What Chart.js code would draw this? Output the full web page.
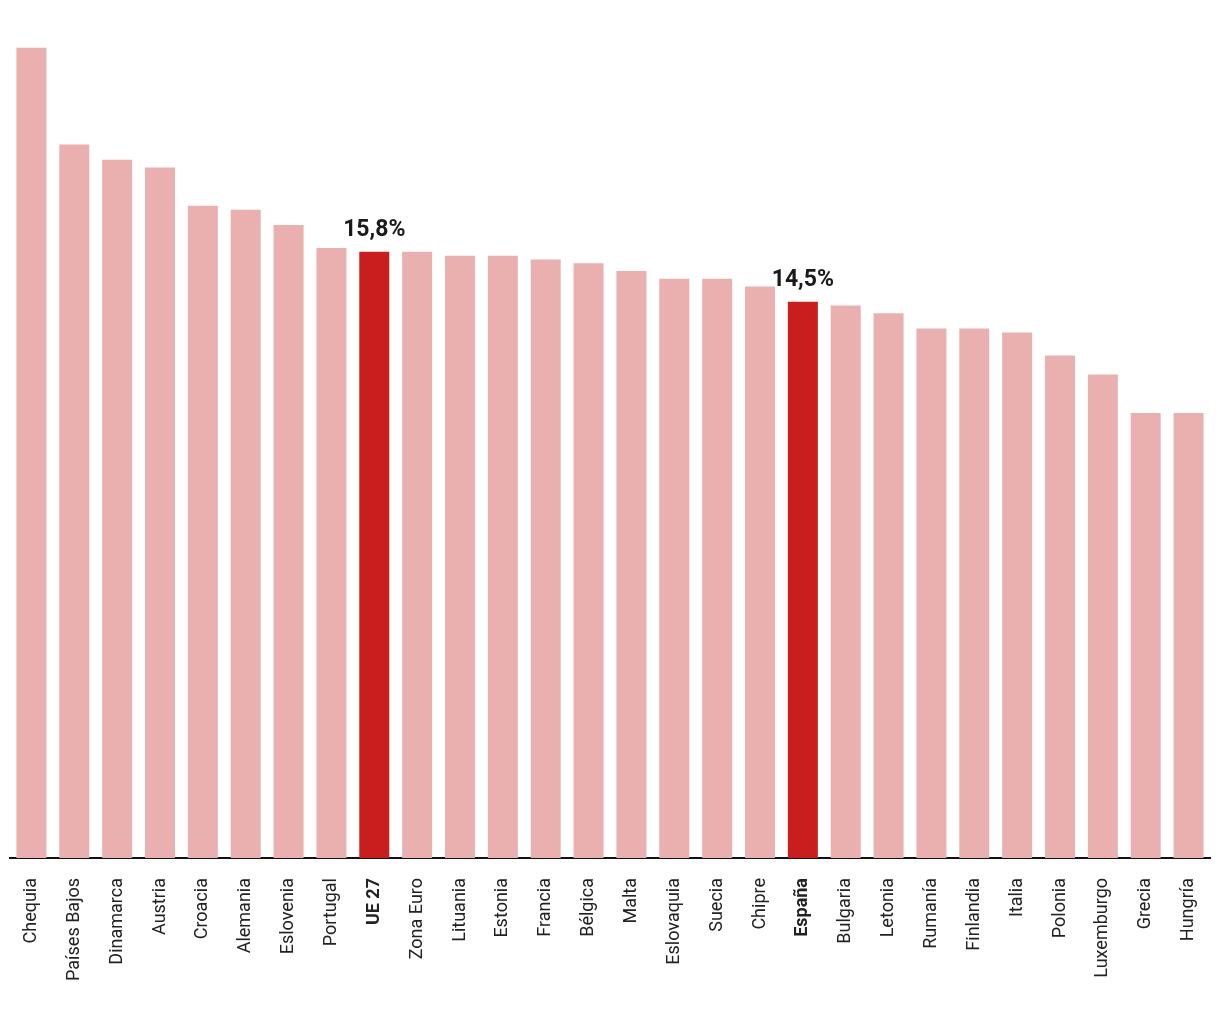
<!DOCTYPE html>
<html>
<head>
<meta charset="utf-8">
<script src="https://cdn.jsdelivr.net/npm/chart.js@4.4.1/dist/chart.umd.min.js"></script>
<style>
  html, body { margin: 0; padding: 0; background: #fff; }
  #wrap { width: 1220px; height: 1020px; position: relative; }
</style>
</head>
<body>
<div id="wrap"><canvas id="chart"></canvas></div>
<script>
// Countries, sorted as in the original graphic
const countries = [
  'Chequia', 'Países Bajos', 'Dinamarca', 'Austria', 'Croacia', 'Alemania',
  'Eslovenia', 'Portugal', 'UE 27', 'Zona Euro', 'Lituania', 'Estonia',
  'Francia', 'Bélgica', 'Malta', 'Eslovaquia', 'Suecia', 'Chipre', 'España',
  'Bulgaria', 'Letonia', 'Rumanía', 'Finlandia', 'Italia', 'Polonia',
  'Luxemburgo', 'Grecia', 'Hungría'
]
// Percent values
const values = [
  21.12, 18.6, 18.2, 18.0, 17.0, 16.9,
  16.5, 15.9, 15.8, 15.8, 15.7, 15.7,
  15.6, 15.5, 15.3, 15.1, 15.1, 14.9, 14.5,
  14.4, 14.2, 13.8, 13.8, 13.7, 13.1,
  12.6, 11.6, 11.6
]
// Bars that get highlighted with a value label
const highlighted = ['UE 27', 'España']

const baseColor = '#EAB0B0'
const highColor = '#C81E1E'

// Draws "15,8%" style labels over the highlighted bars
const valueLabels = {
  id: 'valueLabels',
  afterDatasetsDraw(chart) {
    const { ctx } = chart
    const meta = chart.getDatasetMeta(0)
    ctx.save()
    ctx.font = 'bold 23px Roboto'
    ctx.fillStyle = '#1a1a1a'
    ctx.textAlign = 'center'
    ctx.textBaseline = 'alphabetic'
    countries.forEach((c, i) => {
      if (!highlighted.includes(c)) return
      const bar = meta.data[i]
      const txt = values[i].toFixed(1).replace('.', ',') + '%'
      ctx.fillText(txt, bar.x, bar.y - 16)
    })
    ctx.restore()
  }
}

new Chart(document.getElementById('chart'), {
  type: 'bar',
  data: {
    labels: countries,
    datasets: [{
      data: values,
      backgroundColor: countries.map(c => highlighted.includes(c) ? highColor : baseColor),
      categoryPercentage: 1,
      barPercentage: 0.7
    }]
  },
  options: {
    responsive: true,
    maintainAspectRatio: false,
    animation: false,
    layout: { padding: { top: 14, left: 10, right: 10, bottom: 0 } },
    plugins: {
      legend: { display: false },
      tooltip: { enabled: false }
    },
    scales: {
      x: {
        grid: { display: false },
        border: { display: true, color: '#111', width: 2 },
        afterFit: (scale) => {
          scale.height = 162
          scale.paddingLeft = 0
          scale.paddingRight = 0
        },
        ticks: {
          minRotation: 90,
          maxRotation: 90,
          autoSkip: false,
          padding: 12,
          color: '#222',
          font: (ctx) => ({
            family: 'Roboto',
            size: 18,
            weight: highlighted.includes(countries[ctx.index]) ? 'bold' : 'normal'
          })
        }
      },
      y: {
        display: false,
        min: 0,
        max: 22
      }
    }
  },
  plugins: [valueLabels]
})
</script>
</body>
</html>
